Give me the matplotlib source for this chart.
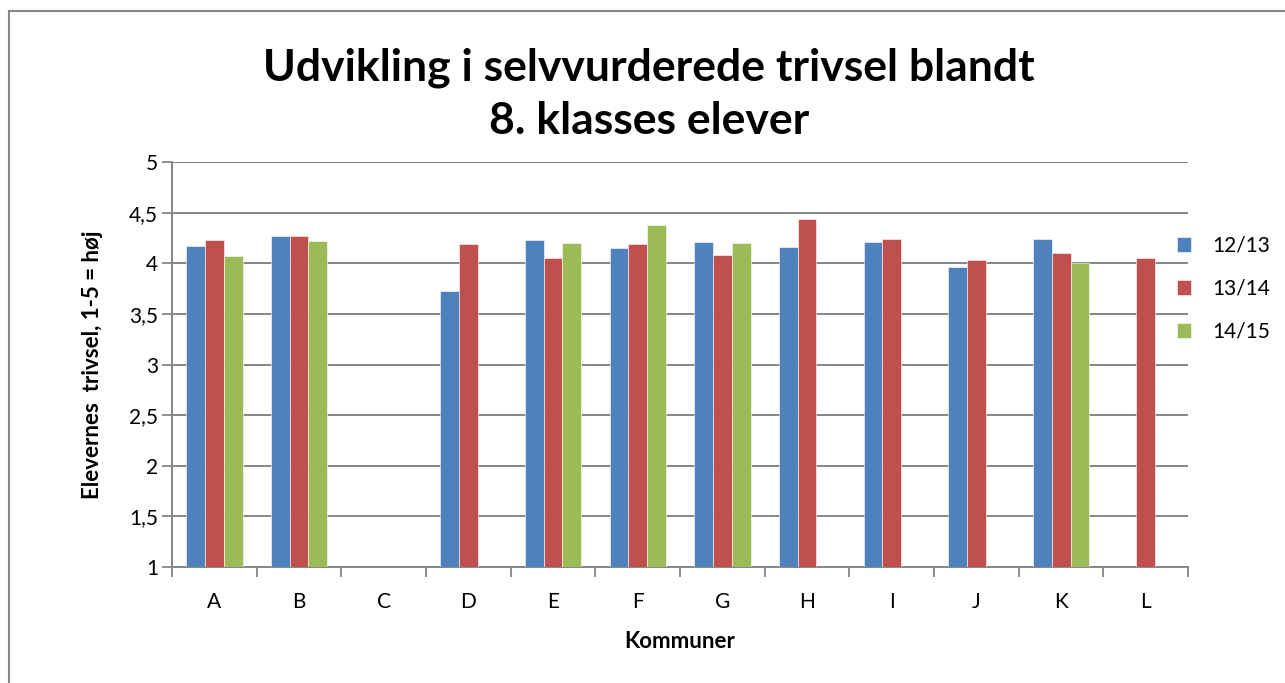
import numpy as np
import matplotlib.pyplot as plt
from matplotlib.lines import Line2D

plt.rcParams["font.family"] = ["Lato", "DejaVu Sans"]

# data
kommuner = ["A", "B", "C", "D", "E", "F", "G", "H", "I", "J", "K", "L"]
v_1213 = [4.17, 4.27, np.nan, 3.73, 4.23, 4.15, 4.21, 4.16, 4.21, 3.96, 4.24, np.nan]
v_1314 = [4.23, 4.27, np.nan, 4.19, 4.05, 4.19, 4.08, 4.44, 4.24, 4.03, 4.10, 4.05]
v_1415 = [4.07, 4.22, np.nan, np.nan, 4.20, 4.38, 4.20, np.nan, np.nan, np.nan, 4.00, np.nan]
series = ["12/13", "13/14", "14/15"]
colors = ["#4F81BD", "#C0504D", "#9BBB59"]
yticks = [1, 1.5, 2, 2.5, 3, 3.5, 4, 4.5, 5]

fig = plt.figure(figsize=(12.85, 6.83), dpi=100)
ax = fig.add_axes([0.1339, 0.1698, 0.7907, 0.5930])

x = np.arange(len(kommuner))
w = 0.222
for i, (vals, lab, c) in enumerate(zip([v_1213, v_1314, v_1415], series, colors)):
    vals = np.array(vals, dtype=float)
    ax.bar(x + (i - 1) * w, vals - 1, w, bottom=1, color=c, label=lab,
           edgecolor="white", linewidth=0.4, zorder=3)

ax.set_xlim(-0.5, len(kommuner) - 0.5)
ax.set_ylim(1, 5)
ax.set_yticks(yticks)
ax.set_yticklabels([f"{t:g}".replace(".", ",") for t in yticks], fontsize=15)
ax.set_xticks(x)
ax.set_xticklabels(kommuner, fontsize=15)
ax.set_xticks(np.arange(-0.5, len(kommuner), 1), minor=True)
ax.tick_params(axis="x", which="major", length=0, pad=18)
ax.tick_params(axis="x", which="minor", length=7, width=1.3, color="#868686", direction="out")
ax.tick_params(axis="y", length=7, width=1.3, color="#868686", direction="out", pad=3)
ax.grid(axis="y", color="#868686", linewidth=1.4, zorder=0)
for side in ["top", "right"]:
    ax.spines[side].set_visible(False)
for side in ["left", "bottom"]:
    ax.spines[side].set_color("#868686")
    ax.spines[side].set_linewidth(1.4)

ax.set_ylabel("Elevernes  trivsel, 1-5 = høj", fontsize=16, fontweight="bold", labelpad=19)
ax.set_xlabel("Kommuner", fontsize=16, fontweight="bold", labelpad=14)

fig.text(0.505, 0.862, "Udvikling i selvvurderede trivsel blandt\n8. klasses elever",
         ha="center", va="center", fontsize=32, fontweight="bold", linespacing=1.38)

ax.legend(loc="center left", bbox_to_anchor=(0.901, 0.577), bbox_transform=fig.transFigure,
          frameon=False, fontsize=15, handlelength=0.7, handleheight=0.7,
          labelspacing=1.1, handletextpad=1.0)

# chart border
fig.add_artist(Line2D([9 / 1285, 9 / 1285], [0, 1 - 11 / 683], transform=fig.transFigure,
                      color="#868686", linewidth=1.5))
fig.add_artist(Line2D([9 / 1285, 1], [1 - 11 / 683, 1 - 11 / 683], transform=fig.transFigure,
                      color="#868686", linewidth=1.5))

fig.savefig("out.png", dpi=100)
